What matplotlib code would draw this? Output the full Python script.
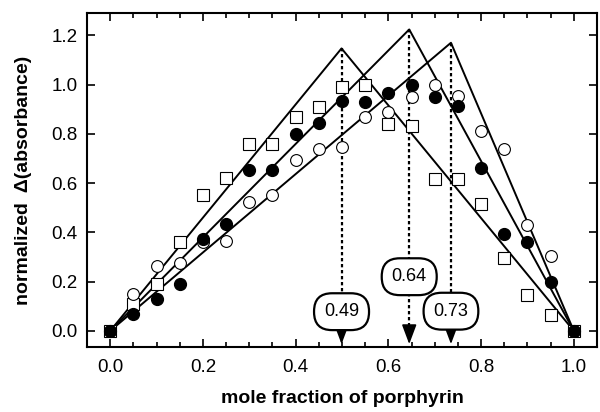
import numpy as np
import matplotlib.pyplot as plt
from matplotlib.ticker import MultipleLocator

plt.rcParams['font.family'] = ['Liberation Sans', 'DejaVu Sans']

x = [0.0, 0.05, 0.10, 0.15, 0.20, 0.25, 0.30, 0.35, 0.40, 0.45, 0.50,
     0.55, 0.60, 0.65, 0.70, 0.75, 0.80, 0.85, 0.90, 0.95, 1.0]
squares = [0.0, 0.11, 0.19, 0.36, 0.55, 0.62, 0.76, 0.76, 0.87, 0.91, 0.99,
           1.00, 0.84, 0.83, 0.615, 0.615, 0.515, 0.295, 0.145, 0.065, 0.0]
filled = [0.0, 0.07, 0.13, 0.19, 0.375, 0.435, 0.655, 0.655, 0.80, 0.845, 0.935,
          0.93, 0.965, 1.00, 0.95, 0.915, 0.66, 0.395, 0.36, 0.20, 0.0]
open_c = [0.0, 0.15, 0.265, 0.275, 0.36, 0.365, 0.525, 0.55, 0.695, 0.74, 0.745,
          0.87, 0.89, 0.95, 1.00, 0.955, 0.81, 0.74, 0.43, 0.305, 0.0]

peak_x = [0.499, 0.645, 0.735]
peak_y = [1.147, 1.224, 1.17]
labels = ['0.49', '0.64', '0.73']
label_y = [0.078, 0.22, 0.08]

fig = plt.figure(figsize=(6, 4.12), dpi=100)
ax = fig.add_axes([0.145, 0.158, 0.85, 0.81])

# triangle fits
for px, py in zip(peak_x, peak_y):
    ax.plot([0, px, 1], [0, py, 0], color='black', lw=1.4, zorder=2)

ax.plot(x, squares, 's', mfc='white', mec='black', ms=8, mew=0.8, zorder=3)
ax.plot(x, open_c, 'o', mfc='white', mec='black', ms=8.5, mew=0.8, zorder=3)
ax.plot(x, filled, 'o', mfc='black', mec='black', ms=8.5, zorder=4)

# dotted drop lines, arrows and labels
for px, py, lab, ly in zip(peak_x, peak_y, labels, label_y):
    ax.plot([px, px], [py, -0.02], color='black', lw=1.6,
            ls=(0, (1.5, 1.2)), zorder=1)
    ax.annotate('', xy=(px, -0.065), xytext=(px, 0.005),
                arrowprops=dict(arrowstyle='-|>,head_length=1.2,head_width=0.45',
                                color='black', lw=1.2), zorder=5)
    ax.text(px, ly, lab, ha='center', va='center', fontsize=13, zorder=6,
            bbox=dict(boxstyle='round,pad=0.55,rounding_size=1.0',
                      fc='white', ec='black', lw=1.6))

ax.set_xlim(-0.05, 1.05)
ax.set_ylim(-0.065, 1.29)
ax.xaxis.set_major_locator(MultipleLocator(0.2))
ax.xaxis.set_minor_locator(MultipleLocator(0.05))
ax.yaxis.set_major_locator(MultipleLocator(0.2))
ax.tick_params(which='both', direction='in', top=True, right=True, labelsize=13.5)
ax.tick_params(axis='x', pad=9)
ax.tick_params(axis='y', pad=7)
ax.tick_params(which='major', length=6, width=1.2)
ax.tick_params(which='minor', length=3.5, width=1.2)
for s in ax.spines.values():
    s.set_linewidth(1.5)

ax.set_xlabel('mole fraction of porphyrin', fontsize=14, fontweight='bold', labelpad=10)
ax.set_ylabel('normalized  Δ(absorbance)', fontsize=14, fontweight='bold', labelpad=14)

fig.savefig('out.png', dpi=100)
